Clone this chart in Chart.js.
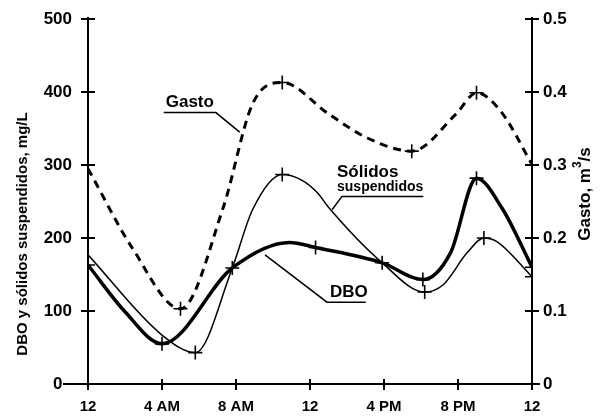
<!DOCTYPE html>
<html><head><meta charset="utf-8">
<script src="https://cdn.jsdelivr.net/npm/chart.js@4.4.0/dist/chart.umd.min.js"></script>
<style>html,body{margin:0;padding:0;background:#fff}#wrap{width:604px;height:420px}</style>
</head><body><div id="wrap"><canvas id="c" width="604" height="420"></canvas></div>
<script>
// ---- data (hours after midnight) ----
const xTickHours = [0, 4, 8, 12, 16, 20, 24];
const xTickLabels = ['12', '4 AM', '8 AM', '12', '4 PM', '8 PM', '12'];
const leftTicks = [0, 100, 200, 300, 400, 500];
const rightTicks = [0, 0.1, 0.2, 0.3, 0.4, 0.5];

const gastoHours  = [0, 2.4, 5, 7.3, 8.9, 10.5, 13, 15.1, 17.5, 19.9, 21, 22.3, 24];
const gastoValues = [0.295, 0.186, 0.103, 0.241, 0.384, 0.413, 0.37, 0.337, 0.319, 0.37, 0.399, 0.374, 0.301];
const gastoMarked = [0, 0, 1, 0, 0, 1, 0, 0, 1, 0, 1, 0, 0];

const dboHours  = [0, 2, 4, 7.8, 10.9, 12.3, 15.9, 18.1, 19.6, 21, 22.4, 24];
const dboValues = [163, 99, 55, 159, 194, 187, 166, 143, 180, 282, 240, 160];
const dboMarked = [1, 0, 1, 1, 0, 1, 1, 1, 0, 1, 0, 1];

const ssHours  = [0, 4, 5.8, 7.8, 8.9, 10.5, 11.5, 12.4, 13, 15.9, 18.2, 19.2, 20.5, 21.4, 22.1, 24];
const ssValues = [177, 67, 43, 159, 239, 287, 280, 262, 242, 166, 126, 136, 180, 200, 195, 147];
const ssMarked = [0, 0, 1, 0, 0, 1, 0, 0, 0, 0, 1, 0, 0, 1, 0, 1];

const FONT = '"Liberation Sans", Arial, sans-serif';

function pts(h, v) { return h.map((x, i) => ({ x: x, y: v[i] })); }
function radii(m) { return m.map(b => b ? 7 : 0); }

const decor = {
  id: 'decor',
  beforeDatasetsDraw(chart) {
    const { ctx, scales: { x, y, y1 } } = chart;
    const x0 = x.getPixelForValue(0), x24 = x.getPixelForValue(24);
    const yb = y.getPixelForValue(0), yt = y.getPixelForValue(500);
    ctx.save();
    ctx.strokeStyle = '#000'; ctx.lineWidth = 2;
    ctx.beginPath();
    ctx.moveTo(x0, yt - 2); ctx.lineTo(x0, yb + 6);
    ctx.moveTo(x0 - 25, yb); ctx.lineTo(x24, yb);
    ctx.moveTo(x24, y1.getPixelForValue(0.5) - 2); ctx.lineTo(x24, yb + 6);
    leftTicks.forEach(v => { if (v === 0) return; const p = y.getPixelForValue(v); ctx.moveTo(x0 - 7, p); ctx.lineTo(x0 + 7, p); });
    rightTicks.forEach(v => { if (v === 0) { const p = y1.getPixelForValue(v); ctx.moveTo(x24, p); ctx.lineTo(x24 + 8, p); return; }
      const p = y1.getPixelForValue(v); ctx.moveTo(x24 - 7, p); ctx.lineTo(x24 + 7, p); });
    xTickHours.forEach(h => { const p = x.getPixelForValue(h); ctx.moveTo(p, yb - 5); ctx.lineTo(p, yb + 6); });
    ctx.stroke();

    // axis titles
    ctx.fillStyle = '#000';
    ctx.textAlign = 'center'; ctx.textBaseline = 'middle';
    ctx.save();
    ctx.translate(23, 234); ctx.rotate(-Math.PI / 2);
    ctx.font = 'bold 15px ' + FONT;
    ctx.fillText('DBO y sólidos suspendidos, mg/L', 0, 0);
    ctx.restore();
    ctx.save();
    ctx.translate(585, 194); ctx.rotate(-Math.PI / 2);
    const a = 'Gasto, m', b = '3', c = '/s';
    ctx.font = 'bold 17px ' + FONT; const wa = ctx.measureText(a).width, wc = ctx.measureText(c).width;
    ctx.font = 'bold 12px ' + FONT; const wb = ctx.measureText(b).width;
    let sx = -(wa + wb + wc) / 2;
    ctx.textAlign = 'left';
    ctx.font = 'bold 17px ' + FONT; ctx.fillText(a, sx, 0); sx += wa;
    ctx.font = 'bold 12px ' + FONT; ctx.fillText(b, sx, -7); sx += wb;
    ctx.font = 'bold 17px ' + FONT; ctx.fillText(c, sx, 0);
    ctx.restore();
    ctx.restore();
  },
  afterDatasetsDraw(chart) {
    const { ctx, scales: { x, y } } = chart;
    const P = (h, v) => [x.getPixelForValue(h), y.getPixelForValue(v)];
    ctx.save();
    ctx.fillStyle = '#000'; ctx.strokeStyle = '#000'; ctx.lineWidth = 1.5;
    ctx.font = 'bold 17px ' + FONT;
    ctx.textAlign = 'left'; ctx.textBaseline = 'alphabetic';
    // Gasto
    let [tx, ty] = P(4.2, 380);
    ctx.fillText('Gasto', tx, ty);
    let w = ctx.measureText('Gasto').width;
    let [lx, ly] = P(8.2, 345);
    ctx.beginPath(); ctx.moveTo(tx - 2, ty + 6); ctx.lineTo(tx + w + 2, ty + 6); ctx.lineTo(lx, ly); ctx.stroke();
    // Sólidos suspendidos
    [tx, ty] = P(13.46, 283);
    ctx.fillText('Sólidos', tx, ty);
    ctx.font = 'bold 14px ' + FONT;
    ctx.fillText('suspendidos', tx, ty + 14);
    w = ctx.measureText('suspendidos').width;
    [lx, ly] = P(13.2, 239);
    ctx.beginPath(); ctx.moveTo(tx + w, ty + 19); ctx.lineTo(tx + 5, ty + 19); ctx.lineTo(lx, ly); ctx.stroke();
    // DBO
    ctx.font = 'bold 17px ' + FONT;
    [tx, ty] = P(13.08, 119);
    ctx.fillText('DBO', tx, ty);
    w = ctx.measureText('DBO').width;
    [lx, ly] = P(9.57, 177);
    ctx.beginPath(); ctx.moveTo(tx + w - 2, ty + 5); ctx.lineTo(tx - 3, ty + 5); ctx.lineTo(lx, ly); ctx.stroke();
    ctx.restore();
  }
};

new Chart(document.getElementById('c'), {
  type: 'line',
  data: {
    datasets: [
      { label: 'Gasto', yAxisID: 'y1', data: pts(gastoHours, gastoValues), borderColor: '#000', borderWidth: 3,
        borderDash: [8, 6], pointStyle: 'cross', pointRadius: radii(gastoMarked), pointBorderWidth: 1.6,
        pointBorderColor: '#000', cubicInterpolationMode: 'monotone', fill: false },
      { label: 'DBO', yAxisID: 'y', data: pts(dboHours, dboValues), borderColor: '#000', borderWidth: 3.5,
        pointStyle: 'cross', pointRadius: radii(dboMarked), pointBorderWidth: 1.6,
        pointBorderColor: '#000', cubicInterpolationMode: 'monotone', fill: false },
      { label: 'Sólidos suspendidos', yAxisID: 'y', data: pts(ssHours, ssValues), borderColor: '#000', borderWidth: 1.5,
        pointStyle: 'cross', pointRadius: radii(ssMarked), pointBorderWidth: 1.6,
        pointBorderColor: '#000', cubicInterpolationMode: 'monotone', fill: false }
    ]
  },
  options: {
    responsive: false, animation: false, devicePixelRatio: 1,
    layout: { padding: { top: 19, left: 0, right: 0, bottom: 0 } },
    plugins: { legend: { display: false }, tooltip: { enabled: false } },
    elements: { line: { borderCapStyle: 'butt' } },
    scales: {
      x: {
        type: 'linear', min: 0, max: 24,
        afterBuildTicks: s => { s.ticks = xTickHours.map(v => ({ value: v })); },
        afterFit: s => { s.height = 36; s.paddingLeft = 0; s.paddingRight = 0; },
        grid: { display: false, drawTicks: false }, border: { display: false },
        ticks: { autoSkip: false, maxRotation: 0, padding: 14, color: '#000',
          font: { family: FONT, size: 15, weight: 'bold' },
          callback: v => xTickLabels[xTickHours.indexOf(v)] }
      },
      y: {
        position: 'left', min: 0, max: 500,
        afterBuildTicks: s => { s.ticks = leftTicks.map(v => ({ value: v })); },
        afterFit: s => { s.width = 88; s.paddingTop = 0; s.paddingBottom = 0; },
        grid: { display: false, drawTicks: false }, border: { display: false },
        ticks: { padding: 16, color: '#000', font: { family: FONT, size: 17, weight: 'bold' },
          callback: v => v === 0 ? '0  ' : String(v) }
      },
      y1: {
        position: 'right', min: 0, max: 0.5,
        afterBuildTicks: s => { s.ticks = rightTicks.map(v => ({ value: v })); },
        afterFit: s => { s.width = 72; s.paddingTop = 0; s.paddingBottom = 0; },
        grid: { display: false, drawTicks: false }, border: { display: false },
        ticks: { padding: 11, color: '#000', font: { family: FONT, size: 17, weight: 'bold' },
          callback: v => v === 0 ? '0' : v.toFixed(1) }
      }
    }
  },
  plugins: [decor]
});
</script></body></html>
